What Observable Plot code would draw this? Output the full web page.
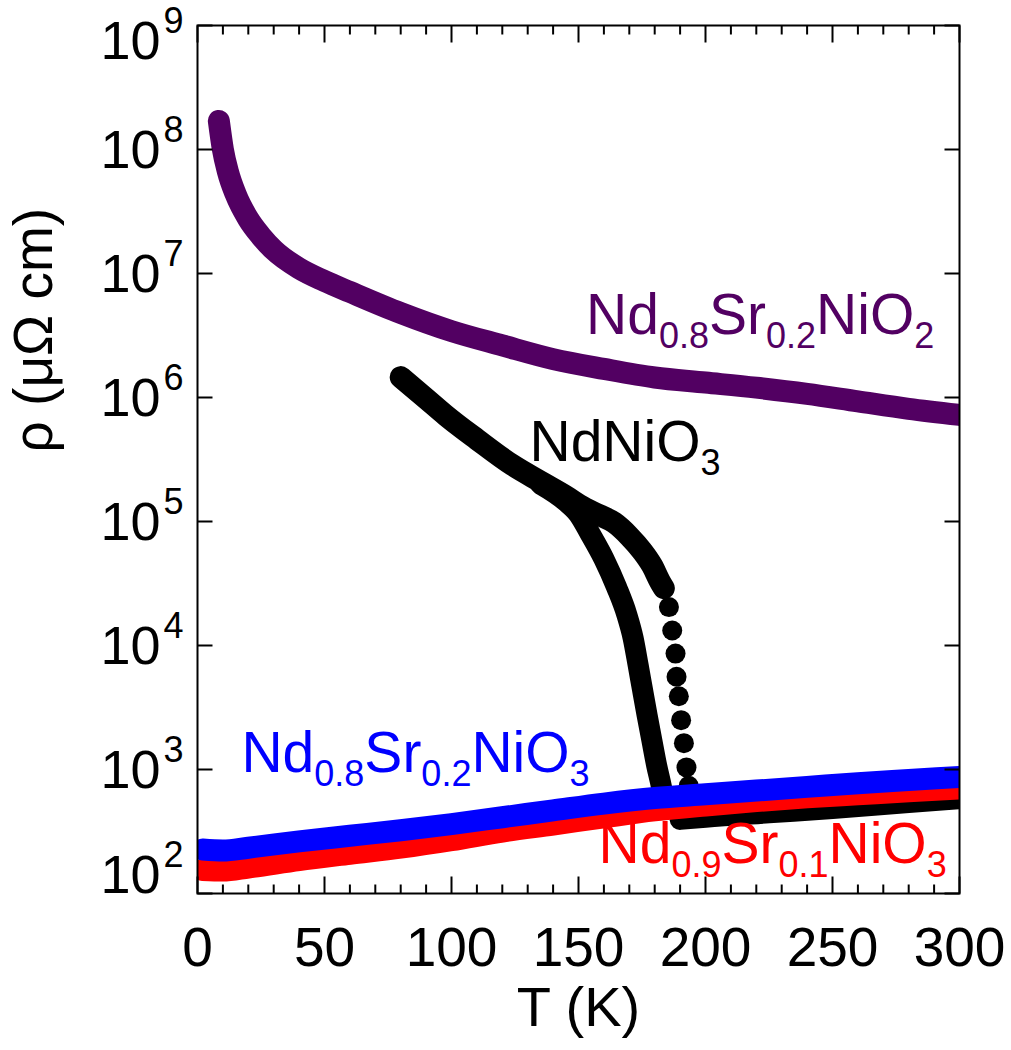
<!DOCTYPE html>
<html><head><meta charset="utf-8">
<script src="https://cdn.jsdelivr.net/npm/d3@7"></script>
<script src="https://cdn.jsdelivr.net/npm/@observablehq/plot@0.6"></script>
<style>
  html,body{margin:0;padding:0;background:#fff}
  #chart svg{display:block}
</style>
</head><body><div id="chart"></div>
<script>
// ---- data (T in K, rho in µΩ cm) ----
const purpleT   = [8.4, 10, 12, 15, 20, 25, 30, 40, 50, 60, 80, 100, 120, 140, 160, 180, 200, 220, 240, 260, 280, 300];
const purpleRho = [1.70e8, 1.0e8, 6.6e7, 4.37e7, 2.75e7, 2.0e7, 1.55e7, 1.10e7, 8.7e6, 7.1e6, 4.8e6, 3.43e6, 2.63e6, 2.04e6, 1.70e6, 1.45e6, 1.32e6, 1.20e6, 1.07e6, 9.3e5, 8.1e5, 7.24e5];

const ndnioWarmT   = [80, 90, 98, 110, 124, 135, 145, 152, 158, 164, 170, 175, 179, 182, 183.6];
const ndnioWarmRho = [1.46e6, 9.8e5, 7.1e5, 4.6e5, 2.85e5, 2.1e5, 1.6e5, 1.3e5, 1.13e5, 9.8e4, 7.6e4, 5.8e4, 4.4e4, 3.3e4, 2.9e4];
const ndnioBeadT   = [185.6, 186.9, 188.2, 188.6, 189.5, 190.4, 191.5, 192.5, 193.4, 193.8];
const ndnioBeadRho = [2.04e4, 1.32e4, 8.6e3, 5.6e3, 3.9e3, 2.5e3, 1.63e3, 1.04e3, 740, 525];
const ndnioCoolT   = [135, 145, 150, 154.7, 160, 165, 169, 171.5, 173.5, 175.2, 177, 178.9, 180.8, 182.7, 184];
const ndnioCoolRho = [2.0e5, 1.45e5, 1.15e5, 7.9e4, 5.0e4, 2.95e4, 1.78e4, 1.15e4, 6.9e3, 4.4e3, 2.75e3, 1.71e3, 1.07e3, 716, 500];
const ndnioMetT    = [190, 200, 225, 250, 275, 300];
const ndnioMetRho  = [396, 412, 447, 484, 531, 583];

const sr01T   = [2, 10, 20, 40, 60, 80, 100, 120, 140, 160, 180, 200, 220, 240, 260, 280, 300];
const sr01Rho = [155, 153, 162, 186, 209, 234, 269, 316, 360, 412, 468, 513, 556, 596, 631, 668, 703];
const sr02T   = [2, 10, 20, 40, 60, 80, 100, 120, 140, 160, 180, 200, 220, 240, 260, 280, 300];
const sr02Rho = [226, 222, 234, 263, 292, 324, 363, 412, 468, 531, 589, 631, 676, 724, 776, 822, 871];

const xMajorTicks = [0, 50, 100, 150, 200, 250, 300];
const xMinorTicks = [10, 20, 30, 40, 60, 70, 80, 90, 110, 120, 130, 140, 160, 170, 180, 190, 210, 220, 230, 240, 260, 270, 280, 290];
const yTickExponents = [2, 3, 4, 5, 6, 7, 8, 9];

const labelText = ["Nd_0.8Sr_0.2NiO_2", "NdNiO_3", "Nd_0.8Sr_0.2NiO_3", "Nd_0.9Sr_0.1NiO_3"];
const labelT    = [153, 130.7, 17.3, 157.9];
const labelRho  = [3.28e6, 3.1e5, 946, 175];
const labelColor = ["#520062", "#000000", "#0000ff", "#ff0000"];

// ---- tables ----
const zip = (T, R) => T.map((t, i) => ({T: t, rho: R[i]}));
const purple = zip(purpleT, purpleRho);
const warm = zip(ndnioWarmT, ndnioWarmRho);
const beads = zip(ndnioBeadT, ndnioBeadRho);
const cool = zip(ndnioCoolT, ndnioCoolRho);
const met = zip(ndnioMetT, ndnioMetRho);
const red = zip(sr01T, sr01Rho);
const blue = zip(sr02T, sr02Rho);
const labels = labelText.map((t, i) => ({text: t, T: labelT[i], rho: labelRho[i], color: labelColor[i]}));
const yTicks = yTickExponents.map(e => 10 ** e);

const tick = (dx, dy) => ({draw(ctx) { ctx.moveTo(0, 0); ctx.lineTo(dx, dy); }});
const lineOpts = (stroke, w) => ({x: "T", y: "rho", stroke, strokeWidth: w, strokeLinecap: "round", strokeLinejoin: "round", curve: "monotone-x", clip: true});
const tickOpts = {stroke: "black", strokeWidth: 2, fill: "none"};
const ylab = (d) => "10^" + Math.round(Math.log10(d));

const chart = Plot.plot({
  width: 1011, height: 1050,
  marginLeft: 197, marginRight: 52, marginTop: 25, marginBottom: 157,
  style: {fontFamily: "'Liberation Sans', Arial, sans-serif", background: "white", color: "black"},
  x: {domain: [0, 300], axis: null},
  y: {type: "log", domain: [1e2, 1e9], axis: null},
  color: {type: "identity"},
  marks: [
    Plot.line(warm, lineOpts("black", 22)),
    Plot.line(cool, lineOpts("black", 21)),
    Plot.dot(beads, {x: "T", y: "rho", r: 10, fill: "black", stroke: "none"}),
    Plot.line(met, lineOpts("black", 21)),
    Plot.line(red, lineOpts("#ff0000", 22)),
    Plot.line(blue, lineOpts("#0000ff", 22)),
    Plot.line(purple, lineOpts("#520062", 22)),
    Plot.frame({stroke: "black", strokeWidth: 2}),
    // ticks
    Plot.dot(xMajorTicks, {x: d => d, frameAnchor: "bottom", symbol: tick(0, -17), ...tickOpts}),
    Plot.dot(xMinorTicks, {x: d => d, frameAnchor: "bottom", symbol: tick(0, -9), ...tickOpts}),
    Plot.dot(xMajorTicks, {x: d => d, frameAnchor: "top", symbol: tick(0, 17), ...tickOpts}),
    Plot.dot(xMinorTicks, {x: d => d, frameAnchor: "top", symbol: tick(0, 9), ...tickOpts}),
    Plot.dot(yTicks, {y: d => d, frameAnchor: "left", symbol: tick(15, 0), ...tickOpts}),
    Plot.dot(yTicks, {y: d => d, frameAnchor: "right", symbol: tick(-15, 0), ...tickOpts}),
    // tick labels
    Plot.text(xMajorTicks, {x: d => d, text: d => String(d), frameAnchor: "bottom", lineAnchor: "bottom", dy: 72, fontSize: 55}),
    Plot.text(yTicks.filter(d => d > 1e2 && d < 1e9), {y: d => d, text: ylab, frameAnchor: "left", textAnchor: "end", dx: -14, dy: 1, fontSize: 54}),
    Plot.text(yTicks.filter(d => d >= 1e9), {y: d => d, text: ylab, frameAnchor: "left", textAnchor: "end", dx: -14, dy: 16, fontSize: 54}),
    Plot.text(yTicks.filter(d => d <= 1e2), {y: d => d, text: ylab, frameAnchor: "left", textAnchor: "end", dx: -14, dy: -18, fontSize: 54}),
    // axis titles
    Plot.text(["T (K)"], {text: d => d, frameAnchor: "bottom", lineAnchor: "bottom", dy: 132, fontSize: 56}),
    Plot.text(["ρ (μΩ cm)"], {text: d => d, frameAnchor: "left", rotate: -90, dx: -163, dy: -7, fontSize: 55}),
    // curve labels
    Plot.text(labels, {x: "T", y: "rho", text: "text", fill: "color", textAnchor: "start", lineAnchor: "bottom", fontSize: 57})
  ]
});

// rich text: _x subscripts, ^x superscripts
const NS = "http://www.w3.org/2000/svg";
chart.querySelectorAll("text").forEach(t => {
  const s = t.textContent;
  if (!/[_^]/.test(s)) return;
  const parts = s.split(/([_^])([\d.]+)/);
  t.textContent = "";
  let offset = 0;
  for (let i = 0; i < parts.length; i++) {
    const p = parts[i];
    if (p === "_" || p === "^") {
      const v = parts[++i];
      const sp = document.createElementNS(NS, "tspan");
      const shift = p === "_" ? 14 : -26;
      sp.setAttribute("font-size", 36);
      sp.setAttribute("dy", shift - offset);
      if (p === "^") sp.setAttribute("dx", 3);
      offset = shift;
      sp.textContent = v;
      t.appendChild(sp);
    } else if (p) {
      const sp = document.createElementNS(NS, "tspan");
      if (offset) sp.setAttribute("dy", -offset);
      offset = 0;
      sp.textContent = p;
      t.appendChild(sp);
    }
  }
});

document.getElementById("chart").appendChild(chart);
</script>
</body></html>
